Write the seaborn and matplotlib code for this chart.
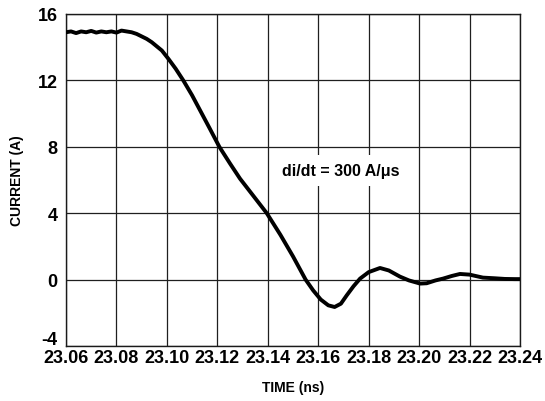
import matplotlib
matplotlib.use('Agg')
import numpy as np
import pandas as pd
import matplotlib.pyplot as plt
import matplotlib.transforms as mtransforms
import seaborn as sns
from matplotlib.ticker import AutoMinorLocator

# valores (tempo em ns, corrente em A)
time_ns = [23.060, 23.062, 23.064, 23.066, 23.068, 23.070, 23.072, 23.074,
           23.076, 23.078, 23.080, 23.082, 23.084, 23.086, 23.088, 23.090,
           23.092, 23.094, 23.096, 23.098, 23.1006, 23.1035, 23.1065, 23.110,
           23.1135, 23.117, 23.1208, 23.125, 23.129, 23.134, 23.1396, 23.145,
           23.150, 23.155, 23.158, 23.161, 23.164, 23.1665, 23.169, 23.1713,
           23.174, 23.1766, 23.180, 23.1845, 23.188, 23.1924, 23.196, 23.2004,
           23.203, 23.2065, 23.2095, 23.213, 23.2162, 23.220, 23.2253, 23.230,
           23.234, 23.238, 23.240]
current_a = [14.90, 14.95, 14.85, 14.95, 14.90, 14.98, 14.88, 14.95,
             14.90, 14.95, 14.88, 15.00, 14.95, 14.90, 14.80, 14.65,
             14.50, 14.30, 14.05, 13.80, 13.30, 12.70, 12.00, 11.10,
             10.10, 9.10, 8.00, 7.00, 6.08, 5.10, 4.00, 2.70,
             1.40, 0.00, -0.65, -1.20, -1.55, -1.65, -1.45, -0.95,
             -0.40, 0.06, 0.45, 0.70, 0.55, 0.18, -0.05, -0.24,
             -0.22, -0.05, 0.06, 0.22, 0.34, 0.30, 0.12, 0.08,
             0.04, 0.03, 0.03]

x_ticks = [23.06, 23.08, 23.10, 23.12, 23.14, 23.16, 23.18, 23.20, 23.22, 23.24]
y_ticks = [-4, 0, 4, 8, 12, 16]

df = pd.DataFrame({'time': time_ns, 'current': current_a})

sns.set_style('white')
plt.rcParams['font.family'] = ['Liberation Sans', 'DejaVu Sans']
plt.rcParams['font.weight'] = 'bold'
plt.rcParams['text.color'] = 'black'
plt.rcParams['axes.labelcolor'] = 'black'
plt.rcParams['xtick.color'] = 'black'
plt.rcParams['ytick.color'] = 'black'

fig = plt.figure(figsize=(5.45, 4.02), dpi=100)
ax = fig.add_axes([0.1211, 0.1368, 0.833, 0.8259])

sns.lineplot(data=df, x='time', y='current', ax=ax, color='black',
             linewidth=2.8, zorder=3)

ax.set_xlim(23.06, 23.24)
ax.set_ylim(-4, 16)
ax.set_xticks(x_ticks)
ax.set_xticklabels([f'{t:.2f}' for t in x_ticks], fontweight='bold')
ax.set_yticks(y_ticks)
ax.set_yticklabels([str(v) for v in y_ticks], fontweight='bold')
ax.xaxis.set_minor_locator(AutoMinorLocator(2))
ax.yaxis.set_minor_locator(AutoMinorLocator(3))

ax.grid(True, which='major', color='0.12', linewidth=0.9)
ax.tick_params(axis='both', which='major', length=0, labelsize=13,
               labelcolor='black')
ax.tick_params(axis='x', which='major', pad=2)
ax.tick_params(axis='y', which='major', pad=6)
ax.tick_params(axis='both', which='minor', direction='in', length=4,
               width=0.8, color='0.3')

# o rótulo -4 fica um pouco acima da base
lowest = ax.get_yticklabels()[0]
lowest.set_transform(lowest.get_transform() +
                     mtransforms.ScaledTranslation(0, 6 / 72, fig.dpi_scale_trans))

for sp in ax.spines.values():
    sp.set_color('0.1')
    sp.set_linewidth(1.0)

ax.set_xlabel('TIME (ns)', fontsize=10, fontweight='bold', labelpad=10)
ax.set_ylabel('CURRENT (A)', fontsize=10, fontweight='bold', labelpad=10)

ax.text(23.169, 6.58, 'di/dt = 300 A/\u03bcs', fontsize=11.5, fontweight='bold',
        ha='center', va='center', zorder=4, color='black',
        bbox=dict(facecolor='white', edgecolor='none', pad=6))

plt.savefig('out.png', dpi=100)
plt.close()
